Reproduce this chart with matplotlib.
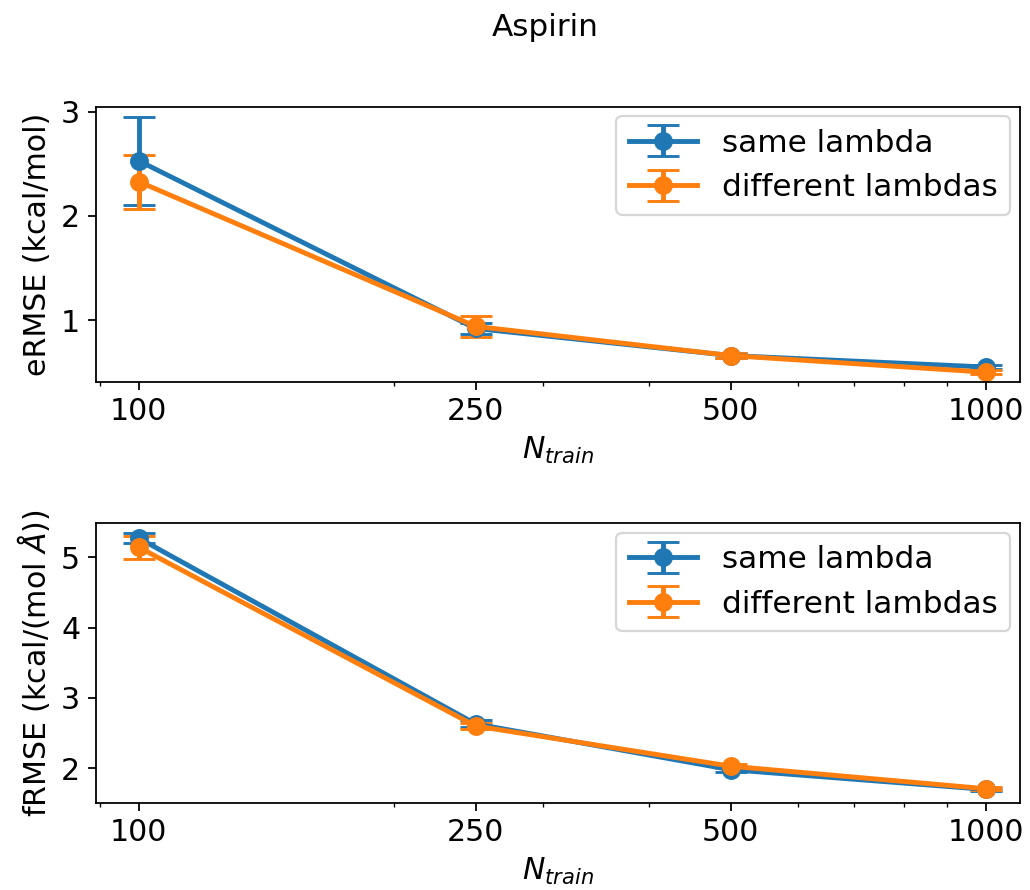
import numpy as np
import matplotlib
matplotlib.use('Agg')
import matplotlib.pyplot as plt
from matplotlib.ticker import NullFormatter, FixedFormatter

# ---Data---
n_train = [100, 250, 500, 1000]
tick_labels = ['100', '250', '500', '1000']

# energy RMSE (kcal/mol)
e_same = [2.53, 0.92, 0.66, 0.55]
e_same_err = [0.42, 0.05, 0.02, 0.02]
e_diff = [2.33, 0.94, 0.66, 0.50]
e_diff_err = [0.26, 0.10, 0.02, 0.02]

# force RMSE (kcal/(mol A))
f_same = [5.27, 2.63, 1.98, 1.70]
f_same_err = [0.07, 0.05, 0.03, 0.02]
f_diff = [5.14, 2.60, 2.03, 1.71]
f_diff_err = [0.16, 0.04, 0.03, 0.02]

labels = ['same lambda', 'different lambdas']
colors = ['#1f77b4', '#ff7f0e']

plt.rcParams['font.size'] = 13.5

dpi = 160
fig = plt.figure(figsize=(1030 / dpi, 890 / dpi), dpi=dpi)
ax1 = fig.add_axes([0.093, 0.571, 0.897, 0.309])
ax2 = fig.add_axes([0.093, 0.098, 0.897, 0.314])

panels = [
    (ax1, e_same, e_same_err, e_diff, e_diff_err, 'eRMSE (kcal/mol)', (0.408, 3.048)),
    (ax2, f_same, f_same_err, f_diff, f_diff_err, r'fRMSE (kcal/(mol $\AA$))', (1.51, 5.48)),
]

for ax, ys, ys_err, yd, yd_err, ylabel, ylim in panels:
    ax.errorbar(n_train, ys, yerr=ys_err, marker='o', color=colors[0], lw=2.2,
                ms=7.5, capsize=7, capthick=1.3, label=labels[0])
    ax.errorbar(n_train, yd, yerr=yd_err, marker='o', color=colors[1], lw=2.2,
                ms=7.5, capsize=7, capthick=1.3, label=labels[1])
    ax.set_xscale('log')
    ax.set_xlim(89, 1097)
    ax.set_ylim(*ylim)
    ax.set_xticks(n_train)
    ax.xaxis.set_major_formatter(FixedFormatter(tick_labels))
    ax.xaxis.set_minor_formatter(NullFormatter())
    ax.set_xlabel(r'$N_{train}$')
    ax.set_ylabel(ylabel)
    ax.legend(loc='upper right', fontsize=14, borderaxespad=0.3, handlelength=2.2)

ax1.set_yticks([1, 2, 3])
ax2.set_yticks([2, 3, 4, 5])

fig.text(545 / 1030, 1 - 28 / 890, 'Aspirin', ha='center', va='center', fontsize=14)

plt.savefig('out.png', dpi=dpi)
